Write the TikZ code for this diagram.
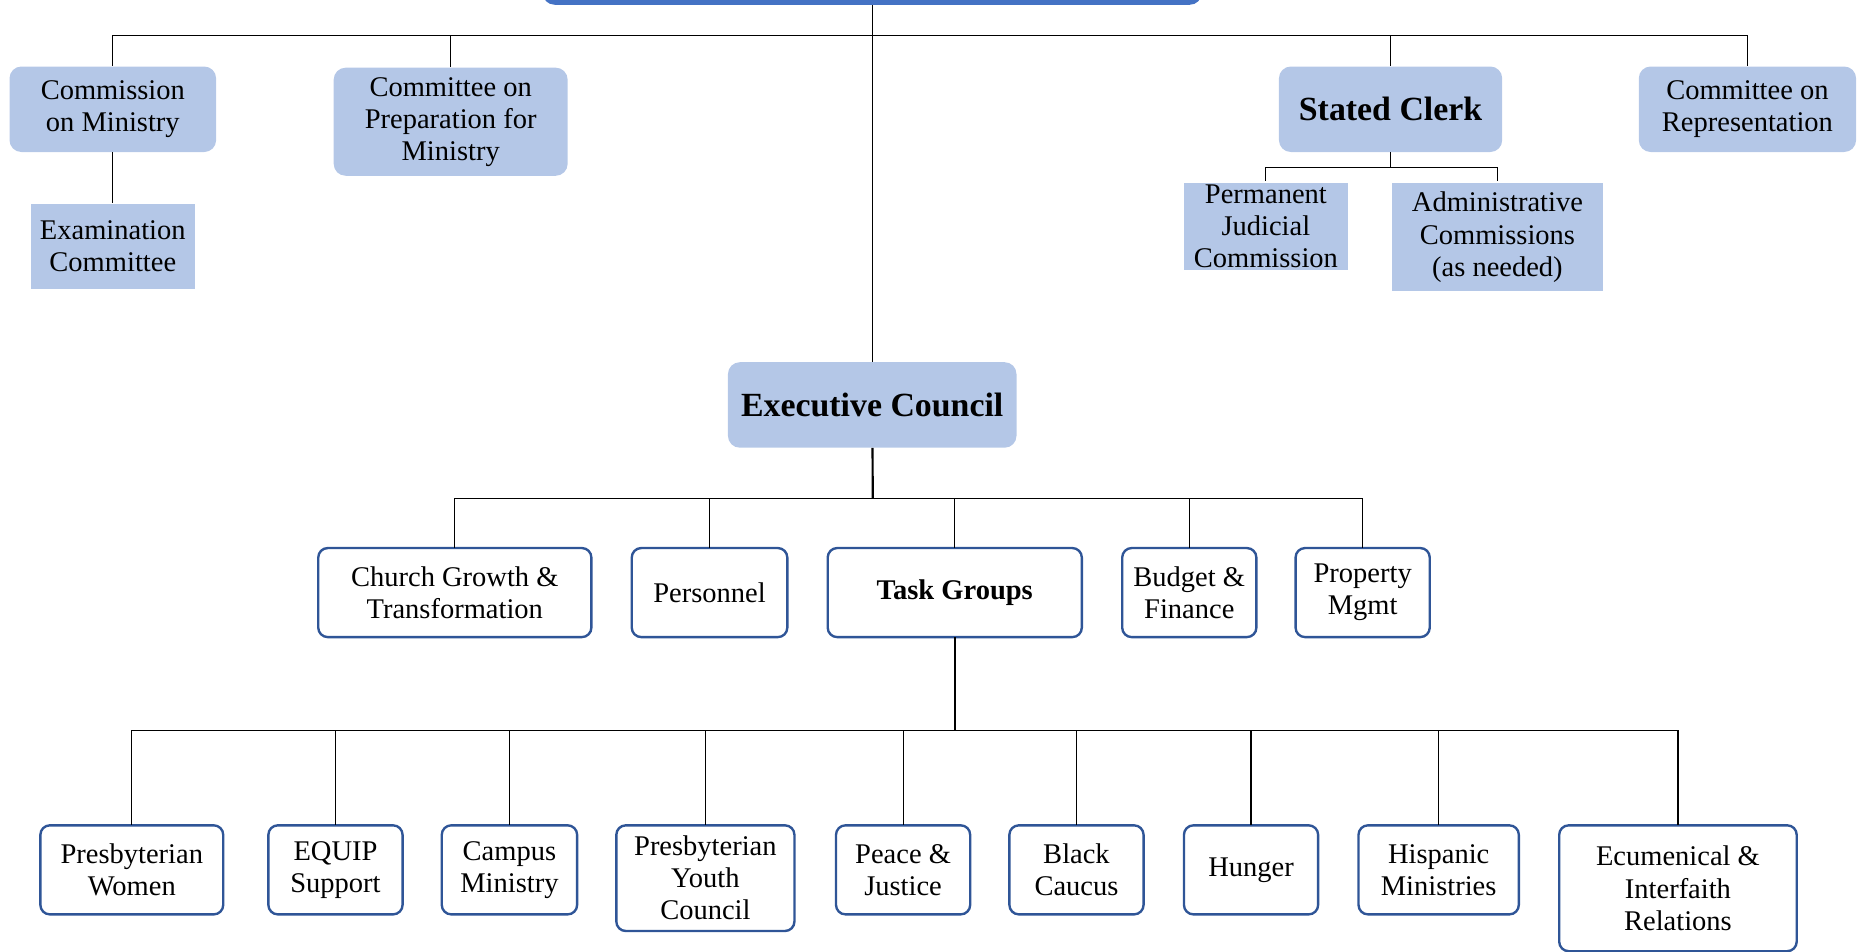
\documentclass[tikz,border=0pt]{standalone}
\usepackage{fontspec}
\setmainfont{Liberation Serif}
\usepackage{tikz}
\usetikzlibrary{positioning, calc}
\definecolor{boxfill}{HTML}{B4C7E7}
\definecolor{boxline}{HTML}{2F5597}
\definecolor{topblue}{HTML}{4472C4}

\begin{document}
\begin{tikzpicture}[
        x=1pt, y=-1pt,
        % Styles
        lightbox/.style={rectangle, fill=boxfill, rounded corners=10pt, inner sep=0pt,
                align=center, font=\fontsize{24}{27}\selectfont},
        flatbox/.style={lightbox, sharp corners},
        headbox/.style={lightbox, font=\fontsize{28.5}{32}\selectfont\bfseries},
        linebox/.style={rectangle, draw=boxline, line width=2pt, fill=white, rounded corners=8pt,
                inner sep=0pt, outer sep=0pt, align=center, font=\fontsize{24}{27}\selectfont, minimum height=75pt},
        link/.style={draw=black, line width=1pt},
        trunk/.style={draw=black, line width=1.8pt}, ]

        \useasboundingbox (0,0) rectangle (1568,801);

        % === ASSEMBLY (cut at the top) ===
        \node[rectangle, fill=topblue, rounded corners=10pt, minimum width=555pt, minimum height=60pt] (assembly) at (734.5,-26) {};

        % === TOP ROW ===
        \node[lightbox, minimum width=174pt, minimum height=72pt] (com) at (95,92) {Commission\\on Ministry};
        \node[flatbox, minimum width=138pt, minimum height=72pt, below=43pt of com] (exam) {Examination\\Committee};
        \node[lightbox, minimum width=197pt, minimum height=91pt] (prep) at (379.5,102.5) {Committee on\\Preparation for\\Ministry};
        \node[headbox, minimum width=188pt, minimum height=72pt] (clerk) at (1171,92) {Stated Clerk};
        \node[lightbox, minimum width=183pt, minimum height=72pt] (rep) at (1471.5,92) {Committee on\\Representation};

        % Under the Stated Clerk
        \node[flatbox, minimum width=138pt, minimum height=73pt, below=26pt of clerk, xshift=-105pt] (pjc) {Permanent\\Judicial\\Commission};
        \node[flatbox, minimum width=178pt, minimum height=91pt, anchor=north] (adm) at (1261,154) {Administrative\\Commissions\\(as needed)};

        % Top connections
        \coordinate (topbus) at (735,30);
        \foreach \c in {com, prep, clerk, rep}
            \draw[link] (topbus) -| (\c.north);
        \draw[link] (com) -- (exam);
        \coordinate (clerkbus) at (1171,141);
        \draw[link] (clerk) -- (clerkbus);
        \draw[link] (clerkbus) -| ($(pjc.north)+(0,-2)$);
        \draw[link] (clerkbus) -| ($(adm.north)+(0,-2)$);

        % === EXECUTIVE COUNCIL ===
        \node[headbox, minimum width=243pt, minimum height=72pt] (exec) at (734.5,341) {Executive Council};
        \draw[link] (assembly) -- (exec);

        % === COMMITTEES (second row) ===
        \node[linebox, minimum width=230pt] (cgt) at (383,499) {Church Growth \&\\Transformation};
        \node[linebox, minimum width=131pt, right=34pt of cgt] (pers) {Personnel};
        \node[linebox, minimum width=214pt, right=34pt of pers, font=\fontsize{24}{27}\selectfont\bfseries] (task) {Task Groups};
        \node[linebox, minimum width=113pt, right=34pt of task] (bud) {Budget \&\\Finance};
        \node[linebox, minimum width=113pt, right=33pt of bud] (prop) {Property\\Mgmt};

        \coordinate (execbus) at (735,420);
        \draw[trunk] (exec) -- (execbus);
        \foreach \c in {cgt, pers, task, bud, prop}
            \draw[link] (execbus) -| (\c.north);

        % === TASK GROUPS (bottom row) ===
        \node[linebox, anchor=north, minimum width=154pt] (women) at (111,695) {Presbyterian\\Women};
        \node[linebox, anchor=north, minimum width=113pt] (equip) at (282.5,695) {EQUIP\\Support};
        \node[linebox, anchor=north, minimum width=114pt] (campus) at (429,695) {Campus\\Ministry};
        \node[linebox, anchor=north, minimum width=150pt, minimum height=89pt] (youth) at (594,695) {Presbyterian\\Youth\\Council};
        \node[linebox, anchor=north, minimum width=113pt] (peace) at (760.5,695) {Peace \&\\Justice};
        \node[linebox, anchor=north, minimum width=113pt] (black) at (906.5,695) {Black\\Caucus};
        \node[linebox, anchor=north, minimum width=113pt] (hunger) at (1053.5,695) {Hunger};
        \node[linebox, anchor=north, minimum width=135pt] (hisp) at (1211.5,695) {Hispanic\\Ministries};
        \node[linebox, anchor=north, minimum width=200pt, minimum height=106pt] (ecu) at (1413,695) {Ecumenical \&\\Interfaith\\Relations};

        \coordinate (taskbus) at (804,615);
        \draw[trunk] (task) -- (taskbus);
        \foreach \c in {women, equip, campus, youth, peace, black, hunger, hisp, ecu}
            \draw[link] (taskbus) -| (\c.north);

\end{tikzpicture}
\end{document}
